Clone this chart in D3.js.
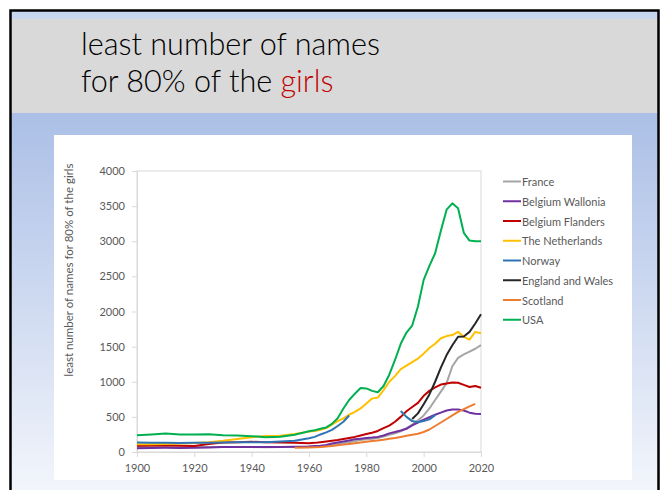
<!DOCTYPE html>
<html><head><meta charset="utf-8">
<script src="https://cdn.jsdelivr.net/npm/d3@7"></script>
<style>body{margin:0;background:#fff}svg{display:block}text{font-family:Lato,"Open Sans",sans-serif}</style>
</head><body><svg id="c" width="666" height="490"></svg>
<script>
// ---- data ----
const years = [1900,1905,1910,1915,1920,1925,1930,1935,1940,1945,1950,1955,
  1960,1962,1964,1966,1968,1970,1972,1974,1976,1978,1980,1982,1984,1986,1988,1990,
  1992,1994,1996,1998,2000,2002,2004,2006,2008,2010,2012,2014,2016,2018,2020];
const seriesNames = ["France","Belgium Wallonia","Belgium Flanders","The Netherlands","Norway","England and Wales","Scotland","USA"];
const france = [70,72,70,65,68,70,72,72,70,68,70,72,
  75,78,80,85,95,110,125,140,155,170,180,190,200,220,245,265,
  295,340,390,450,520,620,740,860,980,1220,1340,1390,1430,1470,1520];
const wallonia = [55,58,60,58,60,65,70,72,72,70,72,75,
  80,85,90,100,120,135,150,165,180,190,200,205,215,235,265,285,
  305,330,380,420,460,495,530,560,590,605,605,590,560,545,540];
const flanders = [90,92,95,88,85,115,135,140,145,140,135,130,
  125,130,140,150,160,170,185,200,215,235,255,275,300,340,375,430,
  500,580,640,700,800,870,920,960,975,990,985,955,925,940,915];
const netherlands = [110,112,115,120,128,140,160,185,210,228,232,258,
  290,300,315,340,390,440,480,530,570,620,690,760,775,880,1000,1080,
  1180,1230,1280,1330,1400,1480,1540,1620,1650,1665,1710,1640,1600,1710,1690];
const norway = [135,132,130,128,130,132,135,138,140,140,148,160,
  195,215,250,280,315,370,430,520,null,null,null,null,null,null,null,null,
  583,500,440,425,440,465,525,null,null,null,null,null,null,null,null];
const englandWales = [null,null,null,null,null,null,null,null,null,null,null,null,
  null,null,null,null,null,null,null,null,null,null,null,null,null,null,null,null,
  null,null,470,550,680,820,1000,1200,1380,1520,1640,1645,1710,1830,1960];
const scotland = [null,null,null,null,null,null,null,null,null,null,null,60,
  65,68,72,78,85,95,105,115,125,135,145,155,165,175,190,200,
  215,230,245,260,285,320,370,420,470,520,570,610,650,685,null];
const usa = [240,250,262,248,250,252,240,235,225,210,218,245,
  295,310,330,350,400,480,620,740,830,910,905,870,850,940,1100,1310,
  1540,1700,1800,2070,2450,2650,2830,3150,3450,3540,3470,3120,3010,3000,3000];
const seriesValues = [france,wallonia,flanders,netherlands,norway,englandWales,scotland,usa];
const yTicks = [0,500,1000,1500,2000,2500,3000,3500,4000];
const xTicks = [1900,1920,1940,1960,1980,2000,2020];
const yTitle = "least number of names for 80% of the girls";

// ---- drawing ----
const svg = d3.select("#c");
const defs = svg.append("defs");
const grad = defs.append("linearGradient").attr("id","bg").attr("x1",0).attr("y1",0).attr("x2",0).attr("y2",1);
grad.append("stop").attr("offset","0%").attr("stop-color","#abbfe6");
grad.append("stop").attr("offset","100%").attr("stop-color","#f2f5fb");

svg.append("rect").attr("x",11).attr("y",113).attr("width",647).attr("height",377).attr("fill","url(#bg)");
svg.append("rect").attr("x",11).attr("y",11).attr("width",647).attr("height",8).attr("fill","#c6d6ee");
svg.append("rect").attr("x",11).attr("y",19).attr("width",647).attr("height",94).attr("fill","#d9d9d9");
svg.append("rect").attr("x",10.5).attr("y",10.5).attr("width",648).attr("height",500)
  .attr("fill","none").attr("stroke","#000").attr("stroke-width",2.5);

// title
const t1 = svg.append("text").attr("x",81).attr("y",55).attr("font-size",29).attr("font-weight",300).attr("fill","#000")
  .text("least number of names");
const t2 = svg.append("text").attr("x",81).attr("y",92).attr("font-size",29).attr("font-weight",300).attr("fill","#000");
t2.append("tspan").text("for 80% of the ");
t2.append("tspan").attr("fill","#c00000").text("girls");
const w = t1.node().getComputedTextLength();
const fs = 29*299/w;
t1.attr("font-size",fs); t2.attr("font-size",fs);

// chart area
svg.append("rect").attr("x",54).attr("y",135).attr("width",578).attr("height",345).attr("fill","#fff");

const x = d3.scaleLinear().domain([1900,2020]).range([137,481]);
const y = d3.scaleLinear().domain([0,4000]).range([452,171]);
const color = d3.scaleOrdinal().domain(seriesNames)
  .range(["#a5a5a5","#7030a0","#c00000","#ffc000","#2e75b6","#262626","#ed7d31","#00b050"]);

svg.append("rect").attr("x",x(1900)).attr("y",y(4000)).attr("width",x(2020)-x(1900)).attr("height",y(0)-y(4000))
  .attr("fill","none").attr("stroke","#d9d9d9");

const gy = svg.append("g").attr("transform",`translate(${x(1900)},0)`)
  .call(d3.axisLeft(y).tickValues(yTicks).tickSize(5).tickPadding(7).tickFormat(d3.format("d")));
const gx = svg.append("g").attr("transform",`translate(0,${y(0)})`)
  .call(d3.axisBottom(x).tickValues(xTicks).tickSize(5).tickPadding(7).tickFormat(d3.format("d")));
[gy,gx].forEach(g=>{
  g.select(".domain").attr("stroke","#d9d9d9");
  g.selectAll(".tick line").attr("stroke","#d9d9d9");
  g.selectAll(".tick text").attr("fill","#595959").attr("font-size",11).attr("font-family","Lato,sans-serif");
});

svg.append("text").attr("transform","translate(68,270) rotate(-90)").attr("text-anchor","middle")
  .attr("dominant-baseline","central").attr("font-size",11.5).attr("fill","#595959").text(yTitle);

const line = d3.line().defined(d=>d[1]!=null).x(d=>x(d[0])).y(d=>y(d[1]));
seriesNames.forEach((name,i)=>{
  const pts = years.map((yr,j)=>[yr,seriesValues[i][j]]);
  svg.append("path").attr("d",line(pts)).attr("fill","none").attr("stroke",color(name))
    .attr("stroke-width",2).attr("stroke-linejoin","round");
});

// legend
const lg = svg.append("g");
seriesNames.forEach((name,i)=>{
  const ly = 181.5 + i*19.75;
  lg.append("line").attr("x1",503).attr("x2",521).attr("y1",ly).attr("y2",ly).attr("stroke",color(name)).attr("stroke-width",2);
  lg.append("text").attr("x",522).attr("y",ly).attr("dominant-baseline","central").attr("font-size",11)
    .attr("fill","#595959").text(name);
});
</script></body></html>
